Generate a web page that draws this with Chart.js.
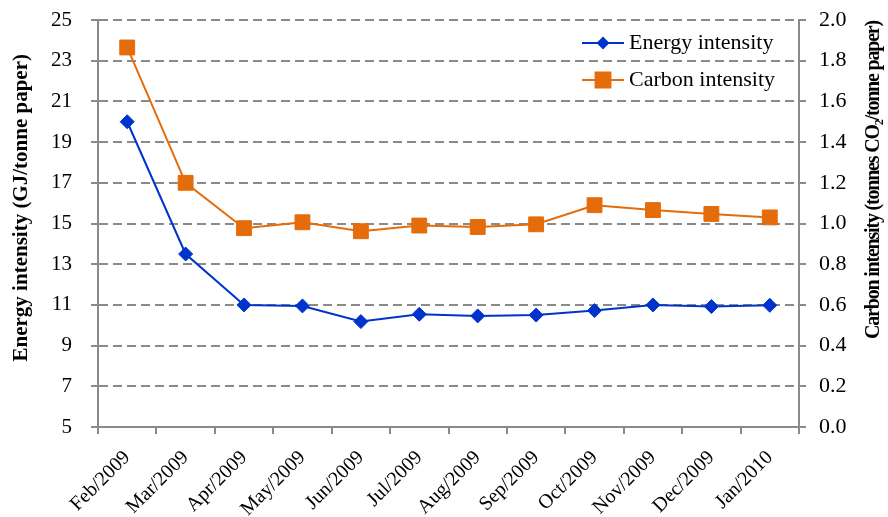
<!DOCTYPE html>
<html lang="en">
<head>
  <meta charset="UTF-8">
  <title>Energy and carbon intensity</title>
  <script src="https://cdn.jsdelivr.net/npm/chart.js"></script>
  <style>
    html, body { margin: 0; padding: 0; background: #fff; }
    #wrap { width: 888px; height: 517px; }
  </style>
</head>
<body>
  <div id="wrap"><canvas id="chart" width="888" height="517"></canvas></div>

  <script>
    const months = ["Feb/2009", "Mar/2009", "Apr/2009", "May/2009", "Jun/2009", "Jul/2009",
                    "Aug/2009", "Sep/2009", "Oct/2009", "Nov/2009", "Dec/2009", "Jan/2010"];
    const energyIntensity = [20.0, 13.5, 11.0, 10.95, 10.18, 10.54, 10.46, 10.5, 10.72, 11.0, 10.92, 10.98];
    const carbonIntensity = [1.865, 1.20, 0.977, 1.006, 0.962, 0.99, 0.983, 0.996, 1.09, 1.066, 1.047, 1.03];

    const blue = "#0033cc";
    const orange = "#e46c0a";
    const grey = "#8a8a8a";
    const serif = "'Liberation Serif', 'DejaVu Serif', serif";

    // legend inside the plot (top right) and the right-hand axis title,
    // which reads bottom-to-top like the left one
    const extras = {
      id: "extras",
      afterDraw(chart) {
        const ctx = chart.ctx;
        const x0 = 582, x1 = 624;
        const rows = [43, 80];
        ctx.save();
        chart.data.datasets.forEach((ds, i) => {
          const y = rows[i];
          ctx.strokeStyle = ds.borderColor;
          ctx.lineWidth = 2;
          ctx.setLineDash([]);
          ctx.beginPath();
          ctx.moveTo(x0, y);
          ctx.lineTo(x1, y);
          ctx.stroke();
          Chart.helpers.drawPoint(ctx, {
            pointStyle: ds.pointStyle,
            radius: i === 0 ? 5 : ds.pointRadius,
            borderWidth: 1
          }, (x0 + x1) / 2, y);
          ctx.fillStyle = ds.borderColor;
          ctx.fill();
          ctx.fillStyle = "#000";
          ctx.font = "22px " + serif;
          ctx.textBaseline = "middle";
          ctx.textAlign = "left";
          ctx.fillText(ds.label, 629, y);
        });

        ctx.translate(874, 180);
        ctx.rotate(-Math.PI / 2);
        ctx.fillStyle = "#000";
        ctx.font = "bold 20px " + serif;
        ctx.letterSpacing = "-1.2px";
        ctx.textAlign = "center";
        ctx.textBaseline = "middle";
        ctx.fillText("Carbon intensity (tonnes CO\u2082/tonne paper)", 0, 0);
        ctx.restore();
      }
    };

    // tick padding would otherwise push the plot top down
    const noVPad = scale => { scale.paddingTop = 0; scale.paddingBottom = 0; };

    new Chart(document.getElementById("chart").getContext("2d"), {
      type: "line",
      data: {
        labels: months,
        datasets: [
          {
            label: "Energy intensity",
            data: energyIntensity,
            yAxisID: "y",
            borderColor: blue,
            backgroundColor: blue,
            borderWidth: 2,
            pointStyle: "rectRot",
            pointRadius: 7,
            pointBorderWidth: 1,
            tension: 0
          },
          {
            label: "Carbon intensity",
            data: carbonIntensity,
            yAxisID: "y1",
            borderColor: orange,
            backgroundColor: orange,
            borderWidth: 2,
            pointStyle: "rect",
            pointRadius: 10.5,
            pointBorderWidth: 1,
            tension: 0
          }
        ]
      },
      options: {
        responsive: false,
        animation: false,
        layout: { padding: { top: 20 } },
        plugins: {
          legend: { display: false },
          tooltip: { enabled: false }
        },
        scales: {
          x: {
            offset: true,
            grid: {
              offset: true,
              drawOnChartArea: false,
              tickLength: 7,
              color: grey,
              lineWidth: 2
            },
            border: { color: grey, width: 2 },
            ticks: {
              minRotation: 45,
              maxRotation: 45,
              color: "#000",
              font: { family: serif, size: 20 },
              padding: 12
            },
            afterFit(scale) { scale.height = 90; }
          },
          y: {
            position: "left",
            min: 5,
            max: 25,
            ticks: {
              stepSize: 2,
              color: "#000",
              font: { family: serif, size: 21 },
              padding: 19
            },
            grid: {
              color: grey,
              lineWidth: 2,
              tickLength: 7,
              tickColor: grey,
              tickBorderDash: []
            },
            border: { color: grey, width: 2, dash: [9, 5] },
            title: {
              display: true,
              text: "      Energy intensity (GJ/tonne paper)",
              color: "#000",
              font: { family: serif, size: 21, weight: "bold" },
              padding: { top: 9, bottom: 0 }
            },
            afterFit(scale) { scale.width = 98; noVPad(scale); }
          },
          y1: {
            position: "right",
            min: 0,
            max: 2,
            ticks: {
              stepSize: 0.2,
              color: "#000",
              font: { family: serif, size: 22 },
              padding: 13,
              callback: v => Number(v).toFixed(1)
            },
            grid: {
              drawOnChartArea: false,
              color: grey,
              lineWidth: 2,
              tickLength: 7
            },
            border: { color: grey, width: 2 },
            afterFit(scale) { scale.width = 89; noVPad(scale); }
          }
        }
      },
      plugins: [extras]
    });
  </script>
</body>
</html>
